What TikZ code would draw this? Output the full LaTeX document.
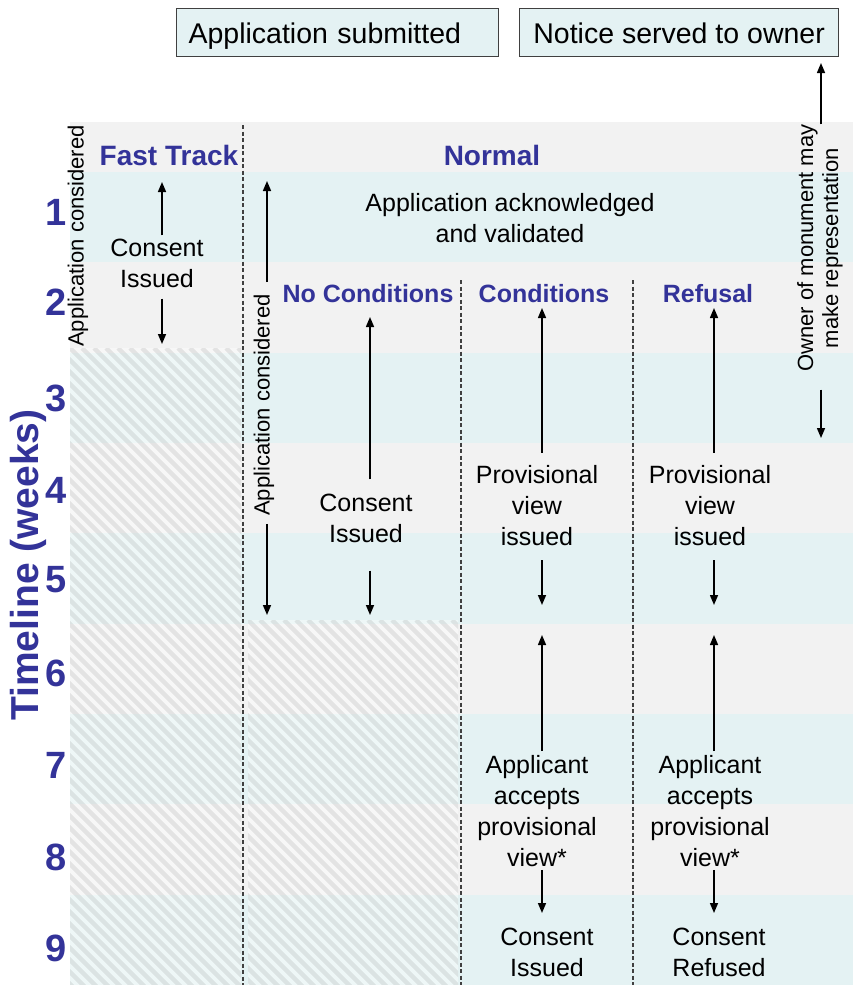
\documentclass[tikz,border=0pt]{standalone}
\usepackage{fontspec}
\setmainfont{Liberation Sans}
\usetikzlibrary{arrows.meta}

\definecolor{hblue}{HTML}{333399}
\definecolor{bandgrey}{HTML}{F2F2F2}
\definecolor{bandteal}{HTML}{E4F2F3}
\definecolor{boxfill}{HTML}{E4F2F3}
\definecolor{dgrey}{HTML}{404040}

\tikzset{
  body/.style={font=\fontsize{25}{31}\selectfont, align=center, inner sep=0pt},
  hdr/.style={font=\bfseries\fontsize{25}{30}\selectfont, text=hblue, inner sep=0pt},
  bighdr/.style={font=\bfseries\fontsize{28}{33}\selectfont, text=hblue, inner sep=0pt},
  wk/.style={font=\bfseries\fontsize{38}{40}\selectfont, text=hblue, anchor=east, inner sep=0pt},
  side/.style={font=\fontsize{22}{25}\selectfont, rotate=90, align=center, inner sep=0pt},
  arr/.style={line width=1.5pt, -{Triangle[width=8pt,length=10pt]}},
  divider/.style={draw=dgrey, line width=1.3pt, dash pattern=on 4pt off 2.5pt},
  topbox/.style={draw=dgrey, line width=1.2pt, fill=boxfill, anchor=north west,
    minimum height=48pt, inner xsep=12pt, text height=21pt, text depth=0pt,
    font=\fontsize{28.5}{32}\selectfont},
  hatchline/.style={draw=black, draw opacity=0.08, line width=4.5pt},
  haze/.style={fill=white, fill opacity=0.4}
}

\begin{document}
\begin{tikzpicture}[x=1pt, y=-1pt]
\useasboundingbox (0,0) rectangle (853,985);

% week bands
\fill[bandgrey] (70,122) rectangle (853,172);
\foreach \ya/\yb/\c in {172/262.3/bandteal, 262.3/352.7/bandgrey, 352.7/443/bandteal,
  443/533.3/bandgrey, 533.3/623.7/bandteal, 623.7/714/bandgrey, 714/804.3/bandteal,
  804.3/894.7/bandgrey, 894.7/985/bandteal}
  \fill[\c] (70,\ya) rectangle (853,\yb);

% hatched (unused) periods
\begin{scope}
  \clip (70,348) rectangle (241,985);
  \fill[haze] (70,348) rectangle (241,985);
  \foreach \k in {-60,...,16} \draw[hatchline] (70+\k*12,348) -- ++(700,700);
\end{scope}
\begin{scope}
  \clip (248,620) rectangle (458,985);
  \fill[haze] (248,620) rectangle (458,985);
  \foreach \k in {-34,...,19} \draw[hatchline] (248+\k*12,620) -- ++(400,400);
\end{scope}

% column dividers
\draw[divider] (243,125) -- (243,985);
\draw[divider] (461,280) -- (461,985);
\draw[divider] (633,280) -- (633,985);

% top boxes
\node[topbox, text width=298pt, align=left] (submitted) at (176,8) {Application submitted};
\node[topbox, minimum width=319pt] (notice) at (519,8) {Notice served to owner};

% axis
\node[font=\bfseries\fontsize{39}{40}\selectfont, text=hblue, rotate=90, inner sep=0pt]
  (timeline) at (28,565) {Timeline (weeks)};
\node[wk] (w1) at (67,212) {1};
\node[wk] (w2) at (67,302) {2};
\node[wk] (w3) at (67,398) {3};
\node[wk] (w4) at (67,490) {4};
\node[wk] (w5) at (67,580) {5};
\node[wk] (w6) at (67,673) {6};
\node[wk] (w7) at (67,765) {7};
\node[wk] (w8) at (67,857) {8};
\node[wk] (w9) at (67,948) {9};

% headings
\node[bighdr] (fast) at (169,155) {Fast Track};
\node[bighdr] (normal) at (492,155) {Normal};
\node[hdr] (nocond) at (368,294) {No Conditions};
\node[hdr] (cond) at (544,294) {Conditions};
\node[hdr] (refusal) at (708,294) {Refusal};

% side labels
\node[side] (ftconsider) at (78,236) {Application considered};
\node[side] (nmconsider) at (264,405) {Application considered};
\node[side] (owner) at (820,248) {Owner of monument may\\make representation};

% stage texts
\node[body] (ack) at (510,218) {Application acknowledged\\and validated};
\node[body] (ftissued) at (157,263) {Consent\\Issued};
\node[body] (ncissued) at (366,518) {Consent\\Issued};
\node[body] (cprov) at (537,506) {Provisional\\view\\issued};
\node[body] (rprov) at (710,506) {Provisional\\view\\issued};
\node[body] (caccept) at (537,811) {Applicant\\accepts\\provisional\\view*};
\node[body] (raccept) at (710,811) {Applicant\\accepts\\provisional\\view*};
\node[body] (cissued) at (547,952) {Consent\\Issued};
\node[body] (rrefused) at (719,952) {Consent\\Refused};

% arrow ends
\coordinate (ftup) at (162,182);
\coordinate (ftdown) at (162,344);
\coordinate (nmup) at (267,181);
\coordinate (nmdown) at (267,615);
\coordinate (ncup) at (370,317);
\coordinate (ncdown) at (370,615);
\coordinate (cup) at (542,308);
\coordinate (cdown) at (542,605);
\coordinate (cup2) at (542,635);
\coordinate (cdown2) at (542,913);
\coordinate (rup) at (714,308);
\coordinate (rdown) at (714,605);
\coordinate (rup2) at (714,635);
\coordinate (rdown2) at (714,913);
\coordinate (ownup) at (821,63);
\coordinate (owndown) at (821,438);

% arrows
\draw[arr] ([yshift=3pt]ftissued.north -| ftup) -- (ftup);
\draw[arr] ([yshift=-11pt]ftissued.south -| ftdown) -- (ftdown);
\draw[arr] ([yshift=12pt]nmconsider.east -| nmup) -- (nmup);
\draw[arr] ([yshift=-8pt]nmconsider.west -| nmdown) -- (nmdown);
\draw[arr] ([yshift=14pt]ncissued.north -| ncup) -- (ncup);
\draw[arr] ([yshift=-28pt]ncissued.south -| ncdown) -- (ncdown);
\draw[arr] ([yshift=13pt]cprov.north -| cup) -- (cup);
\draw[arr] ([yshift=-14pt]cprov.south -| cdown) -- (cdown);
\draw[arr] ([yshift=4pt]caccept.north -| cup2) -- (cup2);
\draw[arr] ([yshift=-3pt]caccept.south -| cdown2) -- (cdown2);
\draw[arr] ([yshift=13pt]rprov.north -| rup) -- (rup);
\draw[arr] ([yshift=-14pt]rprov.south -| rdown) -- (rdown);
\draw[arr] ([yshift=4pt]raccept.north -| rup2) -- (rup2);
\draw[arr] ([yshift=-3pt]raccept.south -| rdown2) -- (rdown2);
\draw[arr] (owner.east -| ownup) -- (ownup);
\draw[arr] ([yshift=-18pt]owner.west -| owndown) -- (owndown);
\end{tikzpicture}
\end{document}
